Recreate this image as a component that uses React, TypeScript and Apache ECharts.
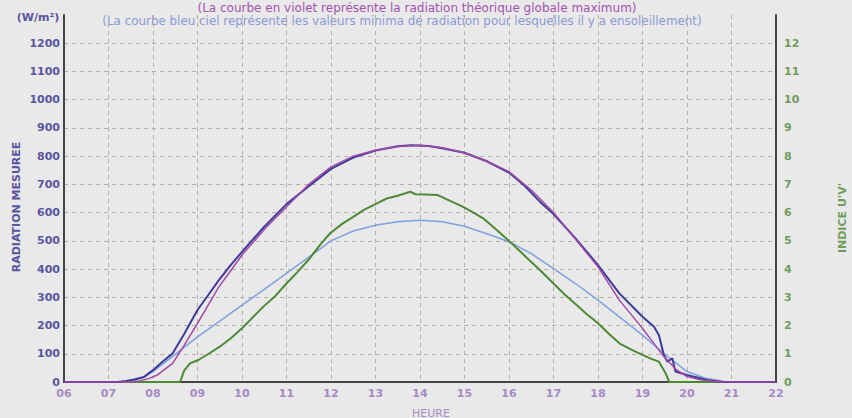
import React, { useEffect, useRef } from "react";
import * as echarts from "echarts";

const hourTicks = ["06","07","08","09","10","11","12","13","14","15","16","17","18","19","20","21","22"];

const measured: [number, number][] = [
  [6,0],[7.2,0],[7.4,4],[7.6,10],[7.8,18],[8,42],[8.2,70],[8.44,101],[8.7,170],[9,255],[9.25,310],[9.48,361],[9.75,415],[10,461],[10.5,550],[11,630],[11.48,691],[12,755],[12.5,795],[13,820],[13.5,835],[13.8,839],[14.2,836],[14.5,828],[15,812],[15.5,782],[16,742],[16.35,695],[16.7,638],[17,595],[17.5,508],[18,414],[18.48,314],[19,231],[19.26,196],[19.37,166],[19.48,96],[19.56,72],[19.67,84],[19.74,37],[20,25],[20.45,7],[20.8,0],[22,0]
];

const theoretical: [number, number][] = [
  [6,0],[7.5,0],[7.7,4],[7.9,12],[8.1,25],[8.44,66],[8.7,130],[9,208],[9.48,337],[9.75,395],[10,450],[10.5,540],[11,621],[11.5,700],[12,762],[12.5,800],[13,821],[13.5,834],[14,839],[14.5,830],[15,812],[15.5,782],[16,745],[16.5,680],[17,600],[17.5,505],[18,408],[18.48,290],[19,190],[19.48,90],[19.75,45],[20,19],[20.3,8],[20.8,0],[22,0]
];

const minimum: [number, number][] = [
  [6,0],[7.4,0],[7.6,6],[7.8,18],[8,37],[8.5,98],[9,160],[9.5,216],[10,272],[10.5,328],[11,385],[11.5,442],[12,500],[12.5,535],[13,555],[13.5,568],[14,573],[14.5,568],[15,552],[15.5,525],[16,497],[16.5,455],[17,402],[17.5,348],[18,290],[18.5,228],[19,166],[19.48,101],[20,37],[20.4,14],[20.9,0],[22,0]
];

const uvIndex: [number, number][] = [
  [6,0],[8.61,0],[8.7,0.4],[8.83,0.66],[9.02,0.78],[9.25,1.0],[9.5,1.25],[9.75,1.55],[10,1.9],[10.25,2.3],[10.48,2.67],[10.75,3.05],[11,3.49],[11.25,3.9],[11.49,4.32],[11.75,4.85],[11.98,5.27],[12.25,5.6],[12.5,5.85],[12.73,6.09],[13,6.3],[13.25,6.5],[13.5,6.6],[13.78,6.74],[13.9,6.65],[14.1,6.64],[14.4,6.62],[14.7,6.4],[14.97,6.2],[15.2,6.0],[15.42,5.8],[15.75,5.35],[16.1,4.85],[16.4,4.4],[16.7,3.96],[17,3.49],[17.25,3.1],[17.5,2.75],[17.75,2.4],[18,2.08],[18.25,1.7],[18.48,1.37],[18.75,1.15],[19,0.96],[19.2,0.82],[19.37,0.72],[19.52,0.31],[19.6,0],[22,0]
];

const title1 = "(La courbe en violet représente la radiation théorique globale maximum)";
const title2 = "(La courbe bleu ciel représente les valeurs minima de radiation pour lesquelles il y a ensoleillement)";

export default function App() {
  const ref = useRef<HTMLDivElement>(null);
  useEffect(() => {
    const chart = echarts.init(ref.current!, null, { renderer: "svg" });
    const font = "DejaVu Sans";
    const grid = { color: "#b9ae9f", type: [4, 4] as any, width: 1 };
    chart.setOption({
      animation: false,
      backgroundColor: "#e9e9e9",
      textStyle: { fontFamily: font },
      grid: { left: 64, right: 76, top: 15, bottom: 36 },
      xAxis: {
        type: "value", min: 6, max: 22, interval: 1,
        axisLine: { show: true, lineStyle: { color: "#444", width: 2 } },
        axisTick: { show: false },
        axisLabel: {
          color: "#a58ac4", fontSize: 11, fontWeight: "bold", margin: 6,
          formatter: (v: number) => hourTicks[Math.round(v) - 6] ?? "",
        },
        splitLine: { show: true, lineStyle: grid, showMinLine: false, showMaxLine: false },
      },
      yAxis: [
        {
          type: "value", min: 0, max: 1300, interval: 100,
          axisLine: { show: true, lineStyle: { color: "#444", width: 2 } },
          axisTick: { show: false },
          axisLabel: { color: "#5a55a0", fontSize: 11, fontWeight: "bold", margin: 4, showMaxLabel: false, formatter: (v: number) => String(v) },
          splitLine: { show: true, lineStyle: grid, showMinLine: false, showMaxLine: false },
        },
        {
          type: "value", min: 0, max: 13, interval: 1, position: "right",
          axisLine: { show: true, lineStyle: { color: "#444", width: 2 } },
          axisTick: { show: false },
          axisLabel: { color: "#6f9d5c", fontSize: 11, fontWeight: "bold", margin: 8, showMaxLabel: false, formatter: (v: number) => String(v) },
          splitLine: { show: false },
        },
      ],
      graphic: [
        { type: "text", x: 417, y: 8, style: { text: title1, fill: "#a452b0", font: `12px ${font}`, textAlign: "center", textVerticalAlign: "middle" } },
        { type: "text", x: 402, y: 21, style: { text: title2, fill: "#8a9ad6", font: `11.9px ${font}`, textAlign: "center", textVerticalAlign: "middle" } },
        { type: "text", x: 38, y: 17, style: { text: "(W/m²)", fill: "#5a55a0", font: `bold 11px ${font}`, textAlign: "center", textVerticalAlign: "middle" } },
        { type: "text", x: 16, y: 207, rotation: Math.PI / 2, style: { text: "RADIATION MESUREE", fill: "#5a55a0", font: `bold 11px ${font}`, textAlign: "center", textVerticalAlign: "middle" } },
        { type: "text", x: 842, y: 218, rotation: Math.PI / 2, style: { text: "INDICE U'V'", fill: "#6f9d5c", font: `bold 11px ${font}`, textAlign: "center", textVerticalAlign: "middle" } },
        { type: "text", x: 431, y: 413, style: { text: "HEURE", fill: "#a58ac4", font: `11px ${font}`, textAlign: "center", textVerticalAlign: "middle" } },
      ],
      series: [
        { type: "line", data: minimum, showSymbol: false, lineStyle: { color: "#7fa1e2", width: 1.5 }, yAxisIndex: 0 },
        { type: "line", data: uvIndex, showSymbol: false, lineStyle: { color: "#4c8a36", width: 2 }, yAxisIndex: 1 },
        { type: "line", data: measured, showSymbol: false, lineStyle: { color: "#3d3b98", width: 2 }, yAxisIndex: 0 },
        { type: "line", data: theoretical, showSymbol: false, lineStyle: { color: "#a347a8", width: 1.5 }, yAxisIndex: 0 },
      ],
    });
    return () => chart.dispose();
  }, []);
  return <div ref={ref} style={{ width: 852, height: 418, position: "fixed", left: 0, top: 0 }} />;
}
